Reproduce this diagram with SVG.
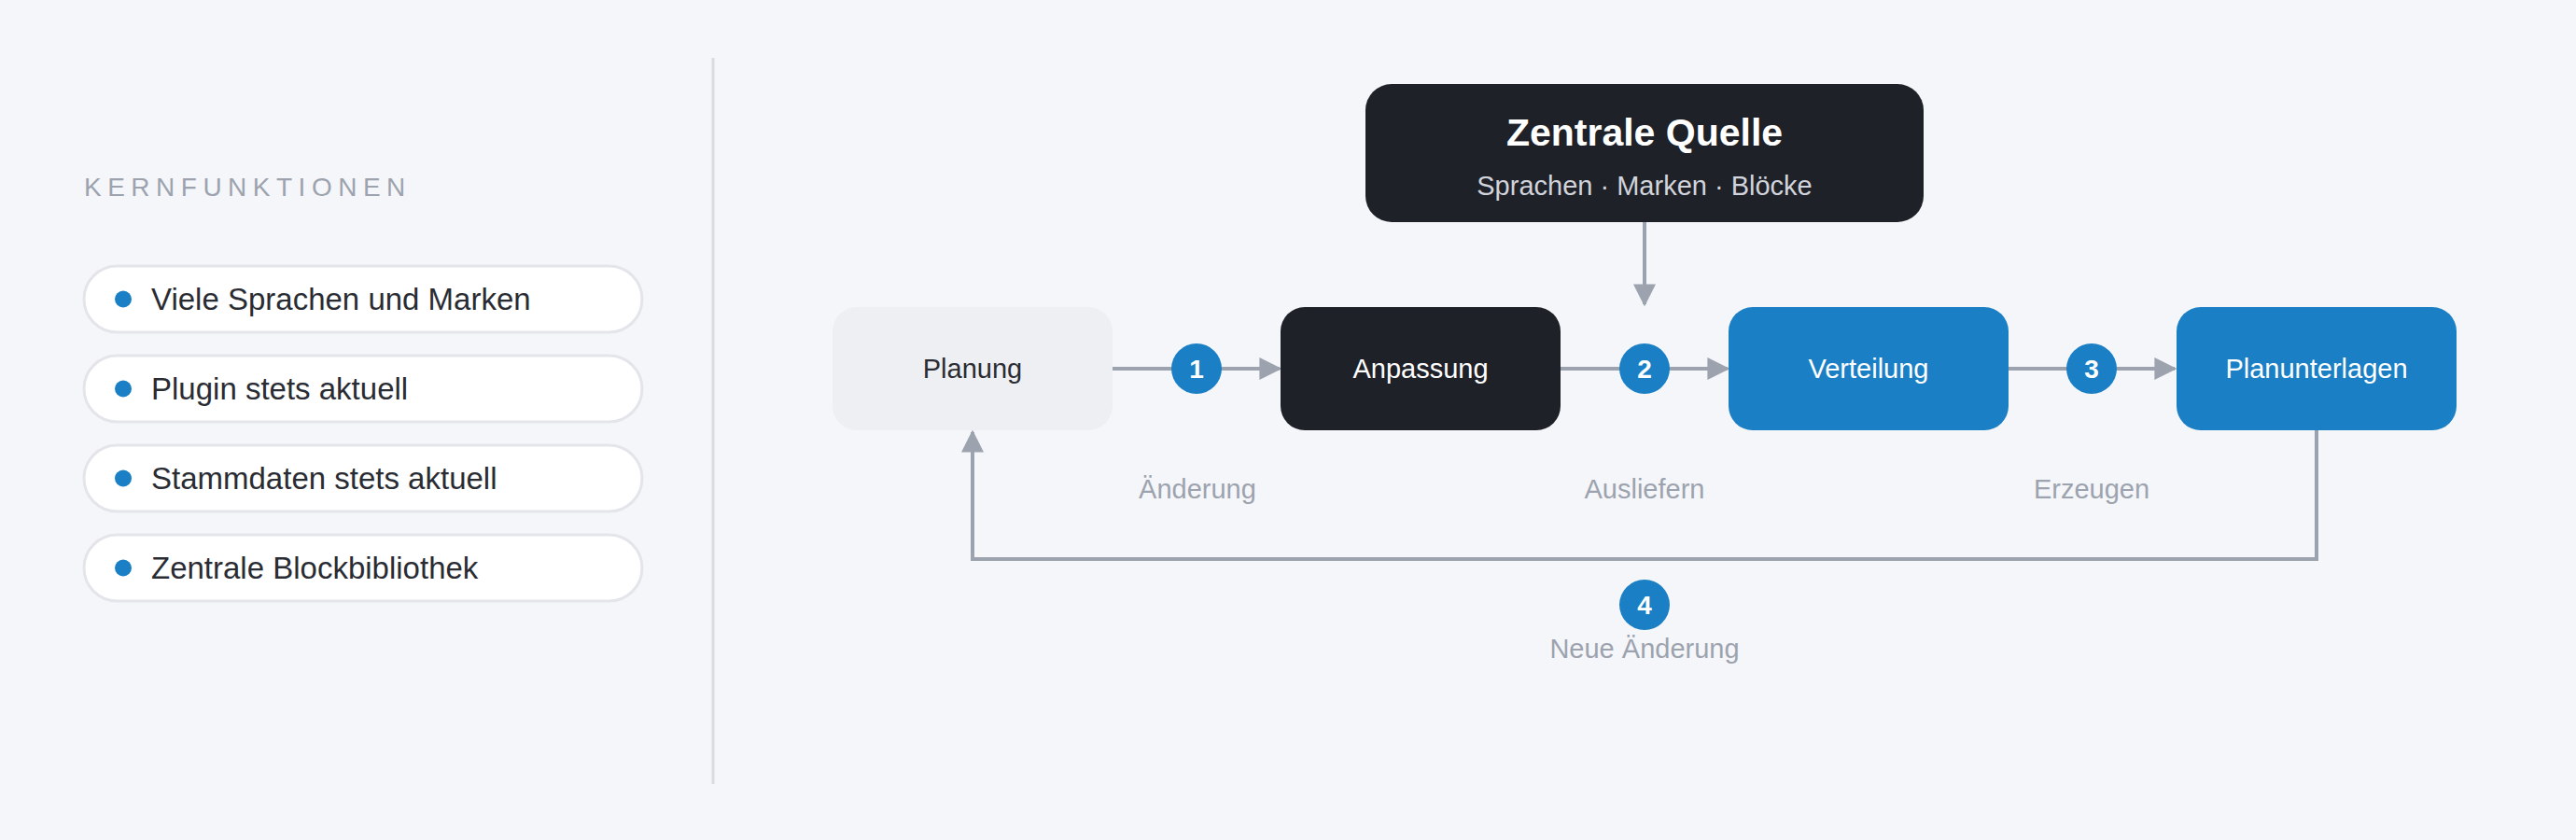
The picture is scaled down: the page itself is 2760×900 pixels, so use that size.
<svg xmlns="http://www.w3.org/2000/svg" width="2760" height="900" viewBox="0 0 2760 900">
<style>
text{font-family:"Liberation Sans",Arial,sans-serif}
.pill{fill:#fff;stroke:#e3e5ea;stroke-width:3}
.pt{font-size:33px;fill:#2a2c33}
.dot{fill:#1a7fc4}
.ln{stroke:#9ca3af;stroke-width:4;fill:none}
.lbl{font-size:29px;fill:#9ca3af;text-anchor:middle}
.bt{font-size:29px;text-anchor:middle}
.badge{fill:#1a7fc4}
.bn{font-size:28px;font-weight:bold;fill:#fff;text-anchor:middle}
</style>
<defs>
<marker id="ah" viewBox="0 0 10 10" refX="9" refY="5" markerWidth="6" markerHeight="6" markerUnits="strokeWidth" orient="auto"><path d="M0,0L10,5L0,10z" fill="#9ca3af"/></marker>
</defs>
<rect width="2760" height="900" fill="#f5f6f9"/>
<line x1="764" y1="62" x2="764" y2="840" stroke="#d9dbe0" stroke-width="3"/>
<text x="90" y="210" font-size="28" fill="#9ca3af" letter-spacing="6.5">KERNFUNKTIONEN</text>
<g id="f1"><rect class="pill" x="90" y="285" width="598" height="71" rx="35.5"/><circle class="dot" cx="132" cy="320.5" r="9"/><text class="pt" x="162" y="332">Viele Sprachen und Marken</text></g>
<g id="f2"><rect class="pill" x="90" y="381" width="598" height="71" rx="35.5"/><circle class="dot" cx="132" cy="416.5" r="9"/><text class="pt" x="162" y="428">Plugin stets aktuell</text></g>
<g id="f3"><rect class="pill" x="90" y="477" width="598" height="71" rx="35.5"/><circle class="dot" cx="132" cy="512.5" r="9"/><text class="pt" x="162" y="524">Stammdaten stets aktuell</text></g>
<g id="f4"><rect class="pill" x="90" y="573" width="598" height="71" rx="35.5"/><circle class="dot" cx="132" cy="608.5" r="9"/><text class="pt" x="162" y="620">Zentrale Blockbibliothek</text></g>
<g id="connectors">
<line class="ln" x1="1762" y1="238" x2="1762" y2="326" marker-end="url(#ah)"/>
<line class="ln" x1="1192" y1="395" x2="1371" y2="395" marker-end="url(#ah)"/>
<line class="ln" x1="1672" y1="395" x2="1851" y2="395" marker-end="url(#ah)"/>
<line class="ln" x1="2151" y1="395" x2="2330" y2="395" marker-end="url(#ah)"/>
<polyline class="ln" points="2482,461 2482,599 1042,599 1042,463" marker-end="url(#ah)"/>
<circle class="badge" cx="1282" cy="395" r="27"/><text class="bn" x="1282" y="405">1</text>
<circle class="badge" cx="1762" cy="395" r="27"/><text class="bn" x="1762" y="405">2</text>
<circle class="badge" cx="2241" cy="395" r="27"/><text class="bn" x="2241" y="405">3</text>
<circle class="badge" cx="1762" cy="648" r="27"/><text class="bn" x="1762" y="658">4</text>
<text class="lbl" x="1283" y="534">Änderung</text>
<text class="lbl" x="1762" y="534">Ausliefern</text>
<text class="lbl" x="2241" y="534">Erzeugen</text>
<text class="lbl" x="1762" y="705">Neue Änderung</text>
</g>
<g id="quelle"><rect x="1463" y="90" width="598" height="148" rx="28" fill="#1f2129"/><text x="1762" y="156" font-size="41" font-weight="bold" fill="#fff" text-anchor="middle">Zentrale Quelle</text><text x="1762" y="209" font-size="29" fill="#d1d4da" text-anchor="middle">Sprachen · Marken · Blöcke</text></g>
<g id="planung"><rect x="892" y="329" width="300" height="132" rx="26" fill="#eeeff3"/><text class="bt" x="1042" y="405" fill="#2a2c33">Planung</text></g>
<g id="anpassung"><rect x="1372" y="329" width="300" height="132" rx="26" fill="#1f2129"/><text class="bt" x="1522" y="405" fill="#fff">Anpassung</text></g>
<g id="verteilung"><rect x="1852" y="329" width="300" height="132" rx="26" fill="#1a7fc4"/><text class="bt" x="2002" y="405" fill="#fff">Verteilung</text></g>
<g id="planunterlagen"><rect x="2332" y="329" width="300" height="132" rx="26" fill="#1a7fc4"/><text class="bt" x="2482" y="405" fill="#fff">Planunterlagen</text></g>
</svg>
